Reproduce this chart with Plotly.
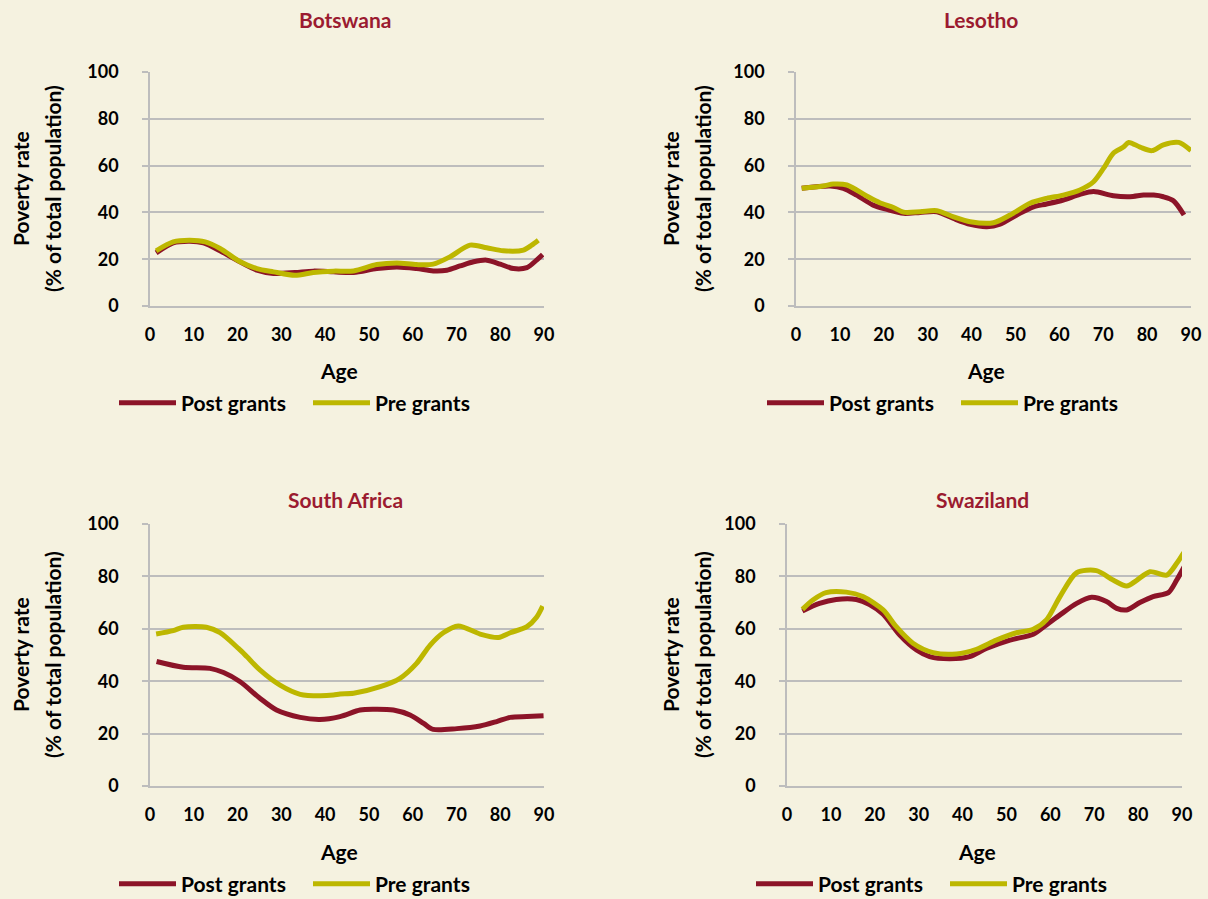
import plotly.graph_objects as go

# ---------------- data ----------------
countries = ["Botswana", "Lesotho", "South Africa", "Swaziland"]
series_names = ["Post grants", "Pre grants"]
x_ticks = [0, 10, 20, 30, 40, 50, 60, 70, 80, 90]
y_ticks = [0, 20, 40, 60, 80, 100]

bw_post_age = [1.4, 5.3, 9.1, 12.2, 16, 19.8, 24.4, 28.2, 33.1, 37.3, 41.9, 46.5, 51.8, 56.4, 60.9,
               64.7, 67.8, 70.8, 73.9, 76.9, 80, 83, 86.1, 88.3, 89.7]
bw_post = [22.7, 27, 27.7, 27, 23.6, 19.6, 15.3, 13.9, 14.3, 14.9, 14.6, 14.3, 16, 16.7, 16,
           15, 15.3, 17.1, 18.9, 19.6, 17.9, 16, 16.4, 19.6, 22]
bw_pre_age = [1.4, 5.3, 9.1, 12.6, 16, 20.6, 24.4, 28.2, 33.1, 37.3, 41.9, 46.5, 51.8, 56.4, 60.9,
              64.7, 68.5, 73.1, 76.9, 80.7, 85.3, 87.2, 88.7]
bw_pre = [23.6, 27.4, 28.1, 27.4, 24.6, 18.9, 16, 14.6, 13.1, 14.3, 14.9, 15, 17.7, 18.4, 17.7,
          17.9, 21, 26, 24.9, 23.6, 23.9, 26, 28.1]

ls_post_age = [1.3, 7.8, 10.8, 13.8, 17.6, 20.7, 24.5, 28.3, 32.1, 35.9, 39.7, 43.5, 46.5, 50.3,
               54.1, 57.1, 60.9, 64.7, 67.8, 72.3, 76.1, 79.2, 81.5, 83.7, 86, 88.4]
ls_post = [50.3, 51.3, 50.3, 47.4, 43.1, 41.3, 39.6, 40, 40.3, 37.4, 34.9, 33.9, 35, 38.9,
           42.4, 43.6, 45.3, 47.7, 48.9, 47.1, 46.7, 47.4, 47.4, 46.7, 45, 38.9]
ls_pre_age = [1.3, 6.2, 8.5, 11.6, 16.1, 19.1, 22.2, 24.5, 28.3, 32.1, 35.9, 39.7, 45, 48.8,
              53.3, 57.1, 60.9, 64.7, 67.8, 70.1, 72.3, 74.6, 75.8, 78.4, 81.1, 83.7, 87.2, 90]
ls_pre = [50.3, 51.3, 52.1, 51.7, 47, 44.1, 42.1, 40.1, 40.3, 40.7, 38.1, 36, 35.6, 38.9,
          43.9, 46, 47.4, 49.6, 53.1, 58.9, 65.3, 67.9, 69.9, 67.9, 66.4, 68.9, 69.9, 66.4]

za_post_age = [1.5, 7.6, 13.7, 16.8, 20.6, 25.1, 28.9, 34.3, 38.8, 43.4, 48, 51, 55.6, 59.4,
               62.5, 64.7, 70.1, 75.4, 79.2, 82.3, 86.1, 89.9]
za_post = [47.5, 45.3, 44.9, 43.3, 39.8, 33.5, 29, 26.2, 25.4, 26.5, 29, 29.3, 29, 27.1,
           23.9, 21.6, 21.9, 22.9, 24.6, 26.2, 26.5, 26.8]
za_pre_age = [1.4, 5.3, 7.6, 12.9, 16, 20.2, 22.1, 25.1, 29.7, 34.3, 38.8, 41.9, 43.4, 46.5,
              52.6, 57.1, 60.9, 64, 67, 70.4, 75.4, 79.6, 82.3, 86.1, 88.3, 89.7]
za_pre = [58, 59.3, 60.6, 60.6, 58.5, 52.5, 49.4, 44.3, 38.5, 35, 34.4, 34.7, 35.1, 35.4,
          37.9, 41.1, 46.8, 53.8, 58.5, 61.1, 58, 56.7, 58.5, 60.8, 64.4, 68.7]

sz_post_age = [3.5, 7.4, 11.2, 15.8, 18.8, 21.9, 25.7, 29.5, 32.5, 37.1, 41.6, 45.4, 50.8, 56.1,
               59.1, 62.2, 66, 69.4, 72.8, 75.1, 77.4, 80.4, 83.4, 86.9, 88.8, 91]
sz_post = [66.8, 69.7, 71.2, 71.2, 69.3, 65.6, 57.6, 51.9, 49.4, 48.6, 49.4, 52.5, 55.7, 57.9,
           61.5, 65.3, 69.7, 72, 70.4, 67.8, 67.2, 70, 72.3, 73.8, 78.6, 85.2]
sz_pre_age = [3.5, 5.9, 8.9, 13.5, 17.3, 21.9, 24.9, 28.7, 33.3, 38.6, 43.2, 47.7, 52.3, 56.1,
              59.1, 62.2, 66, 70.5, 74.3, 77.4, 79.6, 82.7, 86.5, 88.8, 90.4]
sz_pre = [67.4, 71, 73.8, 74, 72.3, 67.2, 60.8, 54.5, 50.9, 50.4, 52.2, 55.7, 58.5, 59.8,
          63.4, 72.3, 81.4, 82.2, 78.6, 76.3, 78.4, 81.8, 80.5, 85, 89.1]

# ---------------- styling ----------------
W, H = 1208, 899
BG = "#F5F2E0"
POST_C = "#8C1428"
PRE_C = "#BDB700"
TITLE_C = "#9B1B30"
GRID_C = "#BDBDBD"
FONT = "Lato"
FS = 21


def px(x):
    return x / W


def py(y):
    return 1 - y / H


# panel geometry in pixels: (left, right, top, bottom)
panels = [
    dict(l=150, r=544, t=72, b=306, title_x=345, title_y=20, ylab1=20, ylab2=52,
         age_x=339, age_y=370, leg_x=114, leg_y=403),
    dict(l=796, r=1191, t=72, b=306, title_x=981, title_y=20, ylab1=670, ylab2=702,
         age_x=986, age_y=370, leg_x=762, leg_y=403),
    dict(l=150, r=544, t=524, b=786, title_x=345, title_y=500, ylab1=20, ylab2=52,
         age_x=339, age_y=851, leg_x=114, leg_y=884),
    dict(l=787, r=1182, t=524, b=786, title_x=982, title_y=500, ylab1=670, ylab2=702,
         age_x=977, age_y=851, leg_x=751, leg_y=884),
]

data = [
    ((bw_post_age, bw_post), (bw_pre_age, bw_pre)),
    ((ls_post_age, ls_post), (ls_pre_age, ls_pre)),
    ((za_post_age, za_post), (za_pre_age, za_pre)),
    ((sz_post_age, sz_post), (sz_pre_age, sz_pre)),
]

fig = go.Figure()
layout = dict(
    width=W, height=H, margin=dict(l=0, r=0, t=0, b=0, autoexpand=False),
    paper_bgcolor=BG, plot_bgcolor=BG,
    font=dict(family=FONT, size=FS, color="black"),
    annotations=[],
)

for i, (p, (post, pre)) in enumerate(zip(panels, data)):
    n = "" if i == 0 else str(i + 1)
    xa, ya = "x" + n, "y" + n
    leg = "legend" + n
    for (ages, vals), name, col in ((post, series_names[0], POST_C), (pre, series_names[1], PRE_C)):
        fig.add_trace(go.Scatter(
            x=ages, y=vals, mode="lines", name=name, xaxis=xa, yaxis=ya, legend=leg,
            line=dict(color=col, width=5, shape="spline", smoothing=0.8),
            showlegend=True,
        ))
    layout["xaxis" + n] = dict(
        domain=[px(p["l"]), px(p["r"])], anchor=ya, range=[0, 90],
        tickvals=x_ticks, showgrid=False, zeroline=False,
        showline=True, linecolor=GRID_C, linewidth=1.5, ticks="",
        tickfont=dict(family=FONT, size=18, weight="bold", color="black"),
        ticklabelstandoff=12,
    )
    layout["yaxis" + n] = dict(
        domain=[py(p["b"]), py(p["t"])], anchor=xa, range=[0, 100],
        tickvals=y_ticks, showgrid=True, gridcolor=GRID_C, gridwidth=1.5, zeroline=False,
        showline=True, linecolor=GRID_C, linewidth=1.5,
        ticks="outside", ticklen=6, tickcolor=GRID_C, tickwidth=1.5,
        tickfont=dict(family=FONT, size=18, weight="bold", color="black"),
        ticklabelstandoff=20,
    )
    layout[leg] = dict(
        orientation="h", x=px(p["leg_x"]), y=py(p["leg_y"]), xanchor="left", yanchor="middle",
        bgcolor="rgba(0,0,0,0)", font=dict(family=FONT, size=FS, weight="bold", color="black"),
        itemwidth=57, entrywidth=122, traceorder="normal",
    )
    ann = layout["annotations"]
    ann.append(dict(text=countries[i], x=px(p["title_x"]), y=py(p["title_y"]), xref="paper", yref="paper",
                    showarrow=False, xanchor="center", yanchor="middle",
                    font=dict(family=FONT, size=FS, weight="bold", color=TITLE_C)))
    ann.append(dict(text="Poverty rate", x=px(p["ylab1"]), y=py((p["t"] + p["b"]) / 2), xref="paper",
                    yref="paper", showarrow=False, textangle=-90, xanchor="center", yanchor="middle",
                    font=dict(family=FONT, size=FS, weight="bold", color="black")))
    ann.append(dict(text="(% of total population)", x=px(p["ylab2"]), y=py((p["t"] + p["b"]) / 2),
                    xref="paper", yref="paper", showarrow=False, textangle=-90, xanchor="center",
                    yanchor="middle", font=dict(family=FONT, size=FS, weight="bold", color="black")))
    ann.append(dict(text="Age", x=px(p["age_x"]), y=py(p["age_y"]), xref="paper", yref="paper",
                    showarrow=False, xanchor="center", yanchor="middle",
                    font=dict(family=FONT, size=FS, weight="bold", color="black")))

fig.update_layout(**layout)
fig.write_html(
    "out.html",
    config={"displayModeBar": False},
    post_script="document.body.style.margin='0';document.body.style.background='" + BG + "';",
)
